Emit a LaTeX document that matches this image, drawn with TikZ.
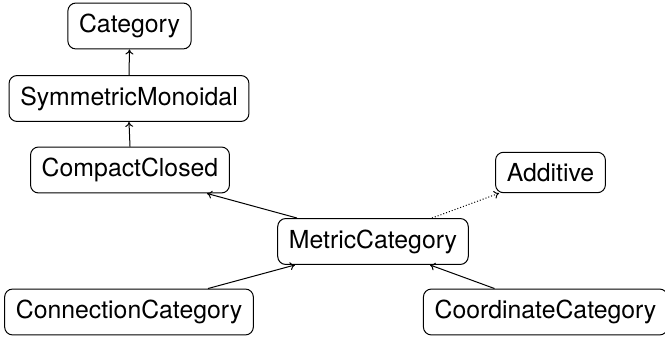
\documentclass[tikz,border=0pt]{standalone}
\usepackage{fontspec}
\setmainfont{TeX Gyre Heros}
\usetikzlibrary{calc,arrows.meta}
\tikzset{
  cls/.style={draw, rounded corners=4pt, inner xsep=5.6pt, inner ysep=5.5pt, font=\fontsize{12.4}{14}\selectfont, line width=0.5pt},
  inh/.style={-{To[length=2.5pt,width=4pt]}, line width=0.5pt},
  dep/.style={-{To[length=2.5pt,width=4pt]}, line width=0.5pt, densely dotted}
}
\begin{document}
\begin{tikzpicture}[x=0.5pt,y=-0.5pt]
\useasboundingbox (0,0) rectangle (665,341);
\node[cls] (cat) at (129.5,26) {Category};
\node[cls] (sym) at (129,98.5) {SymmetricMonoidal};
\node[cls] (cc) at (130,170) {CompactClosed};
\node[cls] (add) at (550.5,172.5) {Additive};
\node[cls] (met) at (373,241.5) {MetricCategory};
\node[cls] (con) at (129,312) {ConnectionCategory};
\node[cls] (coo) at (545.5,312) {CoordinateCategory};
\draw[inh] (sym.north) -- (cat.south);
\draw[inh] (cc.north) -- (sym.south);
\draw[inh] ($(met.north)+(-76,0)$) -- ($(cc.south)+(77,0)$);
\draw[dep] ($(met.north)+(59,0)$) -- ($(add.south west)+(4,0)$);
\draw[inh] ($(con.north)+(79,0)$) -- ($(met.south)+(-78,0)$);
\draw[inh] ($(coo.north)+(-51,0)$) -- ($(met.south)+(57,0)$);
\end{tikzpicture}
\end{document}
